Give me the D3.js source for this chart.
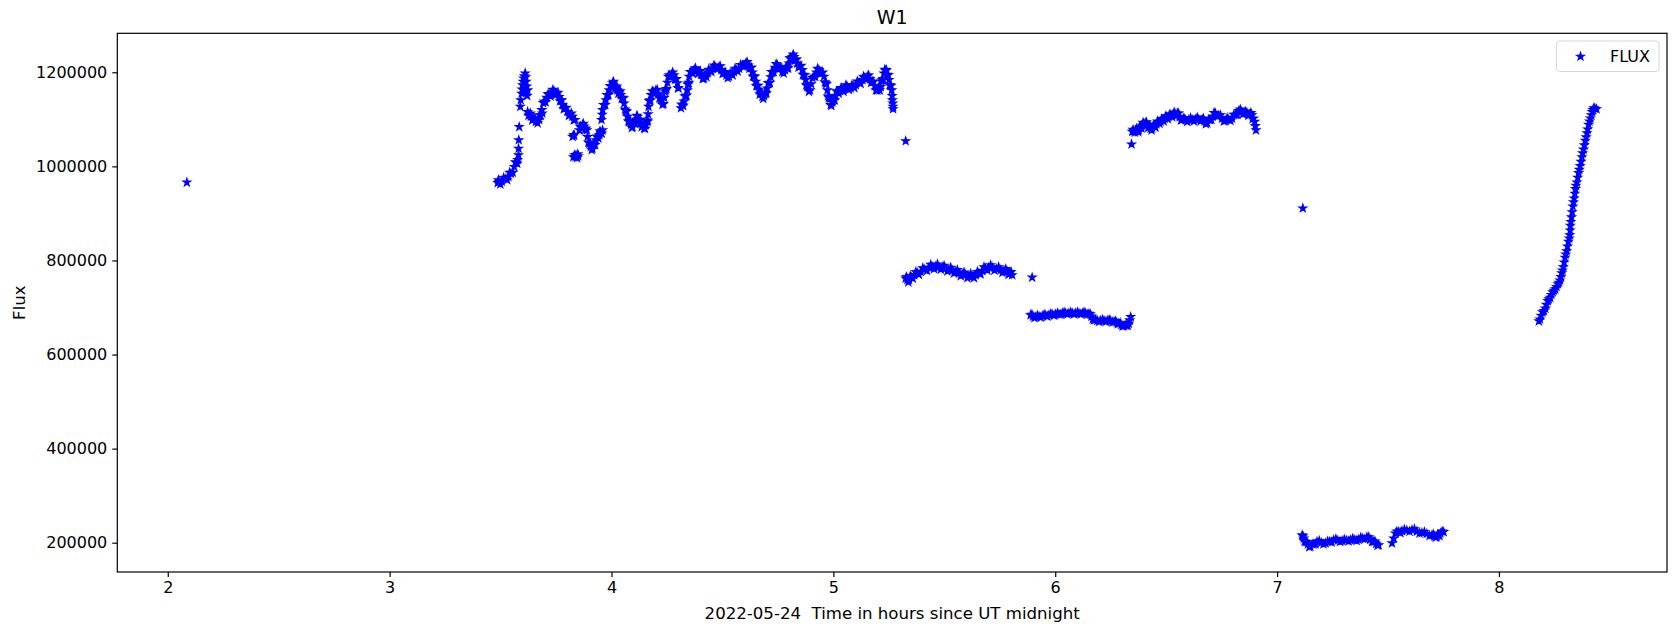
<!DOCTYPE html>
<html>
  <head>
    <style>
    body { margin: 0; background: #fff; }
    text { font-family: "DejaVu Sans", sans-serif; fill: #000; }
    .star { fill: #00f; stroke: #00f; stroke-width: 1.2; }
    </style>
  </head>
  <body>

    <svg width="1680" height="633"></svg>

    <script src="https://cdn.jsdelivr.net/npm/d3@7/dist/d3.min.js"></script>
    <script>

      // [hours since UT midnight, flux]
      const isolated = [
        [2.086, 966000], [5.326, 1054000], [5.896, 764000], [6.344, 1047000], [7.116, 911000]
      ]

      const run1 = [
        [3.487, 965000], [3.493, 967000], [3.505, 968000], [3.524, 974000], [3.535, 978000],
        [3.547, 985000], [3.562, 999000], [3.572, 1008000], [3.577, 1014000], [3.581, 1024000],
        [3.581, 1038000], [3.582, 1056000], [3.584, 1084000], [3.589, 1127000], [3.591, 1141000],
        [3.595, 1155000], [3.599, 1173000], [3.604, 1187000], [3.611, 1198000], [3.615, 1180000],
        [3.618, 1170000], [3.620, 1150000], [3.622, 1162000], [3.622, 1116000], [3.630, 1110000],
        [3.637, 1106000], [3.648, 1100000], [3.659, 1095000], [3.674, 1099000], [3.680, 1108000],
        [3.686, 1120000], [3.697, 1138000], [3.708, 1146000], [3.719, 1152000], [3.730, 1156000],
        [3.742, 1159000], [3.753, 1155000], [3.764, 1148000], [3.772, 1140000], [3.779, 1131000],
        [3.790, 1123000], [3.802, 1116000], [3.813, 1110000], [3.824, 1106000], [3.836, 1099000],
        [3.825, 1063000], [3.832, 1067000], [3.828, 1020000], [3.834, 1024000], [3.840, 1024000],
        [3.845, 1018000], [3.850, 1022000], [3.855, 1077000], [3.862, 1083000], [3.869, 1088000],
        [3.877, 1085000], [3.885, 1081000], [3.892, 1063000], [3.900, 1049000], [3.907, 1042000],
        [3.914, 1038000], [3.922, 1046000], [3.930, 1056000], [3.937, 1062000], [3.945, 1067000],
        [3.952, 1072000], [3.960, 1077000], [3.955, 1099000], [3.960, 1120000], [3.968, 1131000],
        [3.975, 1141000], [3.982, 1152000], [3.990, 1162000], [3.998, 1170000], [4.005, 1177000],
        [4.012, 1172000], [4.020, 1167000], [4.027, 1162000], [4.035, 1157000], [4.042, 1152000],
        [4.050, 1146000], [4.057, 1134000], [4.065, 1118000], [4.072, 1106000], [4.080, 1095000],
        [4.088, 1089000], [4.095, 1084000], [4.103, 1092000], [4.110, 1100000], [4.117, 1106000],
        [4.125, 1098000], [4.132, 1092000], [4.140, 1086000], [4.147, 1081000], [4.155, 1088000],
        [4.162, 1095000], [4.165, 1111000], [4.167, 1127000], [4.172, 1140000], [4.178, 1152000],
        [4.190, 1158000], [4.200, 1162000], [4.211, 1154000], [4.222, 1145000], [4.230, 1131000],
        [4.238, 1146000], [4.245, 1162000], [4.252, 1178000], [4.260, 1194000], [4.270, 1195000],
        [4.282, 1194000], [4.290, 1185000], [4.297, 1177000], [4.302, 1166000], [4.313, 1124000],
        [4.320, 1130000], [4.327, 1138000], [4.335, 1150000], [4.342, 1162000], [4.346, 1176000],
        [4.350, 1191000], [4.360, 1200000], [4.372, 1205000], [4.385, 1203000], [4.395, 1201000],
        [4.405, 1195000], [4.417, 1187000], [4.425, 1193000], [4.432, 1198000], [4.444, 1204000],
        [4.455, 1208000], [4.470, 1211000], [4.485, 1212000], [4.496, 1205000], [4.507, 1198000],
        [4.518, 1194000], [4.530, 1191000], [4.541, 1196000], [4.552, 1201000], [4.563, 1205000],
        [4.575, 1208000], [4.590, 1214000], [4.605, 1219000], [4.617, 1215000], [4.628, 1210000],
        [4.635, 1200000], [4.642, 1192000], [4.650, 1180000], [4.657, 1172000], [4.665, 1162000],
        [4.672, 1155000], [4.680, 1148000], [4.688, 1150000], [4.695, 1155000], [4.702, 1166000],
        [4.710, 1177000], [4.718, 1190000], [4.725, 1201000], [4.737, 1210000], [4.748, 1215000],
        [4.759, 1208000], [4.770, 1201000], [4.782, 1205000], [4.793, 1208000], [4.800, 1219000],
        [4.808, 1230000], [4.815, 1233000], [4.823, 1233000], [4.830, 1226000], [4.838, 1219000],
        [4.849, 1212000], [4.860, 1205000], [4.867, 1194000], [4.875, 1184000], [4.882, 1171000],
        [4.890, 1159000], [4.900, 1175000], [4.913, 1191000], [4.924, 1200000], [4.935, 1205000],
        [4.947, 1198000], [4.958, 1191000], [4.966, 1177000], [4.973, 1162000], [4.980, 1146000],
        [4.988, 1131000], [4.995, 1136000], [5.003, 1141000], [5.010, 1150000], [5.018, 1159000],
        [5.030, 1161000], [5.041, 1162000], [5.052, 1166000], [5.063, 1169000], [5.078, 1166000],
        [5.090, 1170000], [5.101, 1173000], [5.116, 1178000], [5.131, 1184000], [5.142, 1188000],
        [5.153, 1191000], [5.165, 1186000], [5.176, 1180000], [5.187, 1171000], [5.198, 1162000],
        [5.206, 1164000], [5.213, 1169000], [5.220, 1184000], [5.228, 1198000], [5.236, 1203000],
        [5.239, 1205000], [5.245, 1194000], [5.251, 1184000], [5.257, 1172000], [5.263, 1162000],
        [5.266, 1141000], [5.269, 1127000], [5.269, 1122000]
      ]

      // spread of the run 1 band (points either side of its centre)
      const run1Spread = [
        [3.490, 971000], [3.499, 962000], [3.514, 976000], [3.530, 971000], [3.541, 987000],
        [3.555, 987000], [3.567, 1009000], [3.575, 1006000], [3.597, 1164000], [3.602, 1180000],
        [3.607, 1192000], [3.613, 1190000], [3.617, 1160000], [3.626, 1108000], [3.634, 1113000],
        [3.643, 1098000], [3.654, 1103000], [3.667, 1092000], [3.677, 1109000], [3.688, 1113000],
        [3.692, 1135000], [3.703, 1137000], [3.714, 1154000], [3.725, 1149000], [3.736, 1163000],
        [3.748, 1152000], [3.759, 1157000], [3.768, 1139000], [3.776, 1141000], [3.785, 1122000],
        [3.796, 1125000], [3.808, 1108000], [3.819, 1113000], [3.830, 1098000], [3.838, 1020000],
        [3.829, 1066000], [3.848, 1026000], [3.859, 1085000], [3.866, 1081000], [3.873, 1091000],
        [3.881, 1078000], [3.889, 1077000], [3.896, 1051000], [3.904, 1050000], [3.911, 1035000],
        [3.918, 1047000], [3.926, 1046000], [3.934, 1064000], [3.941, 1060000], [3.948, 1075000],
        [3.956, 1070000], [3.958, 1110000], [3.964, 1131000], [3.972, 1131000], [3.979, 1152000],
        [3.986, 1152000], [3.994, 1171000], [4.002, 1169000], [4.009, 1180000], [4.016, 1165000],
        [4.024, 1170000], [4.031, 1155000], [4.039, 1160000], [4.046, 1144000], [4.054, 1145000],
        [4.061, 1121000], [4.069, 1117000], [4.076, 1096000], [4.084, 1097000], [4.092, 1082000],
        [4.099, 1093000], [4.107, 1091000], [4.114, 1108000], [4.121, 1097000], [4.129, 1100000],
        [4.136, 1084000], [4.144, 1089000], [4.151, 1080000], [4.159, 1097000], [4.163, 1098000],
        [4.170, 1139000], [4.175, 1141000], [4.184, 1160000], [4.195, 1155000], [4.206, 1163000],
        [4.216, 1145000], [4.226, 1143000], [4.234, 1133000], [4.241, 1159000], [4.248, 1165000],
        [4.256, 1191000], [4.265, 1190000], [4.276, 1200000], [4.286, 1185000], [4.293, 1186000],
        [4.300, 1167000], [4.316, 1132000], [4.323, 1129000], [4.331, 1149000], [4.338, 1151000],
        [4.344, 1174000], [4.348, 1178000], [4.355, 1201000], [4.366, 1198000], [4.378, 1209000],
        [4.390, 1197000], [4.400, 1203000], [4.411, 1186000], [4.421, 1195000], [4.428, 1190000],
        [4.438, 1206000], [4.450, 1201000], [4.462, 1215000], [4.478, 1207000], [4.490, 1213000],
        [4.501, 1197000], [4.512, 1201000], [4.524, 1188000], [4.535, 1198000], [4.546, 1194000],
        [4.557, 1208000], [4.569, 1202000], [4.582, 1216000], [4.597, 1212000], [4.611, 1222000],
        [4.622, 1208000], [4.631, 1210000], [4.638, 1191000], [4.646, 1191000], [4.653, 1171000],
        [4.661, 1172000], [4.668, 1153000], [4.676, 1157000], [4.684, 1144000], [4.691, 1157000],
        [4.698, 1156000], [4.706, 1177000], [4.714, 1178000], [4.721, 1201000], [4.731, 1201000],
        [4.742, 1218000], [4.753, 1207000], [4.764, 1210000], [4.776, 1198000], [4.787, 1212000],
        [4.796, 1209000], [4.804, 1230000], [4.811, 1227000], [4.819, 1238000], [4.826, 1225000],
        [4.834, 1228000], [4.843, 1211000], [4.854, 1214000], [4.863, 1195000], [4.871, 1194000],
        [4.878, 1173000], [4.886, 1170000], [4.895, 1162000], [4.906, 1188000], [4.918, 1191000],
        [4.929, 1208000], [4.941, 1197000], [4.952, 1200000], [4.962, 1179000], [4.969, 1175000],
        [4.976, 1149000], [4.984, 1144000], [4.991, 1129000], [4.999, 1144000], [5.006, 1141000],
        [5.014, 1160000], [5.024, 1155000], [5.035, 1167000], [5.046, 1159000], [5.057, 1173000],
        [5.070, 1163000], [5.084, 1173000], [5.095, 1167000], [5.108, 1181000], [5.123, 1176000],
        [5.136, 1191000], [5.147, 1185000], [5.159, 1194000], [5.170, 1178000], [5.181, 1180000],
        [5.192, 1162000], [5.202, 1168000], [5.209, 1162000], [5.216, 1181000], [5.224, 1186000],
        [5.232, 1206000], [5.242, 1195000], [5.248, 1194000], [5.254, 1173000], [5.260, 1172000],
        [5.265, 1150000], [5.268, 1134000]
      ]

      const run2 = [
        [5.326, 762000], [5.334, 759000], [5.341, 759000], [5.352, 764000], [5.364, 769000],
        [5.379, 773000], [5.394, 776000], [5.412, 781000], [5.431, 785000], [5.446, 786000],
        [5.461, 787000], [5.476, 786000], [5.491, 785000], [5.506, 783000], [5.521, 781000],
        [5.536, 779000], [5.551, 776000], [5.566, 773000], [5.581, 771000], [5.596, 769000],
        [5.611, 767000], [5.626, 766000], [5.641, 769000], [5.656, 773000], [5.671, 778000],
        [5.686, 783000], [5.701, 785000], [5.716, 785000], [5.735, 782000], [5.754, 780000],
        [5.769, 778000], [5.784, 776000], [5.795, 773000], [5.806, 769000]
      ]

      const run2Spread = [
        [5.330, 765000], [5.338, 754000], [5.347, 767000], [5.358, 762000], [5.372, 776000],
        [5.386, 770000], [5.403, 784000], [5.422, 778000], [5.439, 791000], [5.454, 782000],
        [5.469, 792000], [5.484, 781000], [5.499, 789000], [5.514, 777000], [5.529, 785000],
        [5.544, 773000], [5.559, 780000], [5.574, 767000], [5.589, 775000], [5.604, 763000],
        [5.619, 772000], [5.634, 763000], [5.649, 776000], [5.664, 771000], [5.679, 786000],
        [5.694, 779000], [5.709, 790000], [5.726, 779000], [5.745, 786000], [5.762, 774000],
        [5.777, 782000], [5.790, 770000], [5.801, 776000]
      ]

      const run3 = [
        [5.889, 684000], [5.900, 681000], [5.912, 680000], [5.927, 681000], [5.942, 682000],
        [5.957, 683000], [5.972, 684000], [5.987, 685000], [6.002, 686000], [6.017, 686000],
        [6.032, 688000], [6.047, 688000], [6.062, 688000], [6.077, 688000], [6.092, 688000],
        [6.107, 688000], [6.122, 688000], [6.137, 688000], [6.152, 687000], [6.163, 681000],
        [6.175, 673000], [6.190, 672000], [6.205, 672000], [6.220, 672000], [6.235, 672000],
        [6.250, 672000], [6.265, 670000], [6.277, 668000], [6.287, 666000], [6.298, 663000],
        [6.310, 661000], [6.321, 662000], [6.332, 666000], [6.336, 673000], [6.340, 680000]
      ]

      const run3Spread = [
        [5.895, 685000], [5.906, 678000], [5.920, 683000], [5.935, 679000], [5.950, 685000],
        [5.965, 681000], [5.980, 687000], [5.995, 683000], [6.010, 688000], [6.025, 685000],
        [6.040, 690000], [6.055, 686000], [6.070, 690000], [6.085, 686000], [6.100, 690000],
        [6.115, 686000], [6.130, 690000], [6.145, 685000], [6.158, 686000], [6.169, 675000],
        [6.183, 674000], [6.198, 670000], [6.213, 674000], [6.228, 670000], [6.243, 674000],
        [6.258, 669000], [6.271, 671000], [6.282, 665000], [6.293, 667000], [6.304, 660000],
        [6.316, 663000], [6.327, 662000]
      ]

      const run4 = [
        [6.347, 1074000], [6.355, 1075000], [6.362, 1076000], [6.370, 1077000], [6.377, 1077000],
        [6.385, 1082000], [6.392, 1087000], [6.400, 1091000], [6.407, 1092000], [6.415, 1088000],
        [6.422, 1084000], [6.430, 1081000], [6.437, 1081000], [6.447, 1085000], [6.456, 1090000],
        [6.465, 1094000], [6.475, 1095000], [6.484, 1099000], [6.494, 1102000], [6.503, 1104000],
        [6.512, 1106000], [6.522, 1108000], [6.531, 1110000], [6.540, 1112000], [6.550, 1113000],
        [6.561, 1105000], [6.572, 1099000], [6.587, 1099000], [6.602, 1099000], [6.617, 1099000],
        [6.632, 1100000], [6.647, 1100000], [6.662, 1100000], [6.673, 1096000], [6.685, 1092000],
        [6.697, 1099000], [6.710, 1106000], [6.722, 1113000], [6.737, 1108000], [6.752, 1102000],
        [6.767, 1097000], [6.782, 1100000], [6.797, 1102000], [6.812, 1110000], [6.827, 1118000],
        [6.840, 1116000], [6.852, 1114000], [6.865, 1113000], [6.877, 1111000], [6.887, 1109000],
        [6.893, 1102000], [6.899, 1095000], [6.902, 1086000], [6.905, 1077000]
      ]

      const run4Spread = [
        [6.351, 1078000], [6.359, 1072000], [6.366, 1080000], [6.374, 1073000], [6.381, 1084000],
        [6.389, 1081000], [6.396, 1093000], [6.404, 1088000], [6.411, 1094000], [6.419, 1082000],
        [6.426, 1087000], [6.434, 1077000], [6.442, 1087000], [6.452, 1083000], [6.461, 1096000],
        [6.470, 1091000], [6.480, 1101000], [6.489, 1096000], [6.499, 1107000], [6.508, 1101000],
        [6.517, 1111000], [6.527, 1105000], [6.536, 1115000], [6.545, 1108000], [6.556, 1113000],
        [6.567, 1098000], [6.580, 1103000], [6.595, 1095000], [6.610, 1103000], [6.625, 1096000],
        [6.640, 1104000], [6.655, 1096000], [6.668, 1102000], [6.679, 1090000], [6.691, 1099000],
        [6.704, 1099000], [6.716, 1114000], [6.730, 1107000], [6.745, 1109000], [6.760, 1096000],
        [6.775, 1103000], [6.790, 1097000], [6.805, 1110000], [6.820, 1110000], [6.834, 1121000],
        [6.846, 1111000], [6.859, 1117000], [6.871, 1108000], [6.882, 1114000], [6.890, 1101000]
      ]

      const run5 = [
        [7.113, 216000], [7.120, 209000], [7.128, 202000], [7.139, 197000], [7.150, 192000],
        [7.165, 197000], [7.180, 202000], [7.199, 200000], [7.218, 199000], [7.237, 202000],
        [7.255, 206000], [7.274, 205000], [7.293, 204000], [7.312, 205000], [7.331, 206000],
        [7.350, 206000], [7.368, 207000], [7.386, 209000], [7.405, 212000], [7.420, 207000],
        [7.435, 202000], [7.447, 198000], [7.458, 195000]
      ]

      const run5Spread = [
        [7.117, 214000], [7.124, 203000], [7.134, 202000], [7.145, 191000], [7.158, 197000],
        [7.173, 197000], [7.190, 204000], [7.209, 197000], [7.228, 203000], [7.246, 201000],
        [7.265, 208000], [7.284, 202000], [7.303, 207000], [7.322, 203000], [7.341, 209000],
        [7.359, 204000], [7.377, 211000], [7.396, 208000], [7.413, 212000], [7.428, 202000],
        [7.441, 203000], [7.453, 194000]
      ]

      const run6 = [
        [7.518, 199000], [7.526, 209000], [7.533, 220000], [7.548, 223000], [7.563, 225000],
        [7.585, 226000], [7.608, 227000], [7.630, 224000], [7.653, 221000], [7.675, 219000],
        [7.698, 216000], [7.709, 214000], [7.720, 213000], [7.728, 216000], [7.736, 220000],
        [7.751, 223000]
      ]

      const run6Spread = [
        [7.540, 224000], [7.556, 221000], [7.574, 228000], [7.597, 224000], [7.619, 229000],
        [7.642, 220000], [7.664, 223000], [7.687, 215000], [7.704, 218000], [7.715, 211000],
        [7.724, 217000], [7.732, 215000], [7.744, 224000]
      ]

      const run7 = [
        [8.180, 671000], [8.190, 683000], [8.203, 693000], [8.214, 706000], [8.225, 718000],
        [8.236, 727000], [8.248, 736000], [8.260, 744000], [8.271, 753000], [8.279, 765000],
        [8.286, 779000], [8.294, 796000], [8.301, 813000], [8.309, 830000], [8.317, 847000],
        [8.321, 864000], [8.324, 882000], [8.330, 903000], [8.336, 924000], [8.342, 942000],
        [8.347, 959000], [8.355, 976000], [8.362, 993000], [8.370, 1010000], [8.377, 1028000],
        [8.385, 1045000], [8.393, 1062000], [8.400, 1079000], [8.408, 1096000], [8.416, 1109000],
        [8.424, 1120000], [8.432, 1123000], [8.440, 1122000]
      ]

      const run7Spread = [
        [8.185, 675000], [8.197, 690000], [8.209, 698000], [8.220, 714000], [8.231, 721000],
        [8.242, 733000], [8.254, 739000], [8.266, 750000], [8.275, 758000], [8.283, 773000],
        [8.290, 786000], [8.298, 806000], [8.305, 820000], [8.313, 840000], [8.319, 854000],
        [8.322, 874000], [8.327, 892000], [8.333, 915000], [8.339, 932000], [8.345, 952000],
        [8.351, 966000], [8.359, 986000], [8.366, 1001000], [8.374, 1020000], [8.381, 1036000],
        [8.389, 1055000], [8.397, 1071000], [8.404, 1089000], [8.412, 1102000], [8.420, 1116000],
        [8.428, 1124000]
      ]

      const xTicks = [2, 3, 4, 5, 6, 7, 8]
      const yTicks = [200000, 400000, 600000, 800000, 1000000, 1200000]

      const data = [].concat(
        isolated, run1, run1Spread, run2, run2Spread, run3, run3Spread,
        run4, run4Spread, run5, run5Spread, run6, run6Spread, run7, run7Spread
      )

      const svg = d3.select('svg')
      const plot = {left: 117.3, right: 1667, top: 33.3, bottom: 572}

      const x = d3.scaleLinear().domain([1.7725, 8.7575]).range([plot.left, plot.right])
      const y = d3.scaleLinear().domain([137700, 1282900]).range([plot.bottom, plot.top])

      const star = d3.symbol().type(d3.symbolStar).size(18)

      svg.append('g')
        .selectAll('path')
        .data(data)
        .enter().append('path')
          .attr('class', 'star')
          .attr('d', star)
          .attr('transform', d => 'translate(' + x(d[0]) + ',' + y(d[1]) + ')')

      const xAxis = svg.append('g')
          .attr('transform', 'translate(0,' + plot.bottom + ')')
          .call(d3.axisBottom(x).tickValues(xTicks).tickSize(5).tickPadding(5).tickFormat(d3.format('d')))
      const yAxis = svg.append('g')
          .attr('transform', 'translate(' + plot.left + ',0)')
          .call(d3.axisLeft(y).tickValues(yTicks).tickSize(5).tickPadding(5).tickFormat(d3.format('d')))

      for (const ax of [xAxis, yAxis]) {
        ax.select('.domain').remove()
        ax.selectAll('line').attr('stroke', '#000').attr('stroke-width', 1.2)
        ax.selectAll('text').attr('font-size', 16).attr('font-family', 'DejaVu Sans').attr('fill', '#000')
      }

      svg.append('rect')
        .attr('x', plot.left).attr('y', plot.top)
        .attr('width', plot.right - plot.left).attr('height', plot.bottom - plot.top)
        .attr('fill', 'none').attr('stroke', '#000').attr('stroke-width', 1.2)

      svg.append('text')
        .attr('x', (plot.left + plot.right) / 2).attr('y', 24)
        .attr('text-anchor', 'middle').attr('font-size', 19)
        .text('W1')

      svg.append('text')
        .attr('x', (plot.left + plot.right) / 2).attr('y', 619)
        .attr('text-anchor', 'middle').attr('font-size', 16.6)
        .style('white-space', 'pre')
        .text('2022-05-24  Time in hours since UT midnight')

      svg.append('text')
        .attr('transform', 'translate(25,' + (plot.top + plot.bottom) / 2 + ') rotate(-90)')
        .attr('text-anchor', 'middle').attr('font-size', 16.6)
        .text('Flux')

      // legend
      const legend = svg.append('g').attr('transform', 'translate(1556.5,41)')
      legend.append('rect')
        .attr('width', 102.5).attr('height', 30.5).attr('rx', 3)
        .attr('fill', '#fff').attr('fill-opacity', 0.8)
        .attr('stroke', '#d6d6d6').attr('stroke-width', 1)
      legend.append('path')
        .attr('class', 'star')
        .attr('d', star)
        .attr('transform', 'translate(24,15.5)')
      legend.append('text')
        .attr('x', 53.5).attr('y', 21.3).attr('font-size', 16)
        .text('FLUX')

    </script>
  </body>
</html>
